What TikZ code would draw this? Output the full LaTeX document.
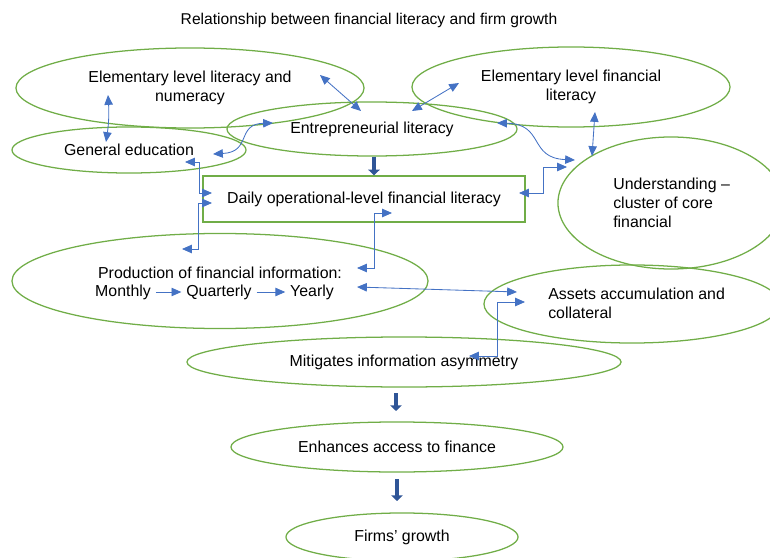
\documentclass[tikz,border=0pt]{standalone}
\usepackage{fontspec}
\setmainfont{Liberation Sans}
\usepackage{tikz}
\usetikzlibrary{shapes.geometric}
\usetikzlibrary{arrows.meta}

\definecolor{ovalgreen}{HTML}{70AD47}
\definecolor{linkblue}{HTML}{4472C4}
\definecolor{deepblue}{HTML}{2F5597}

\tikzset{
    oval/.style={ellipse, draw=ovalgreen, line width=0.9pt, inner sep=0pt, align=center},
    link/.style={draw=linkblue, line width=0.6pt, {Triangle[length=7pt,width=6pt]}-{Triangle[length=7pt,width=6pt]}},
    onelink/.style={draw=linkblue, line width=0.6pt, -{Triangle[length=7pt,width=6pt]}},
    bigarrow/.style={draw=deepblue, line width=2.8pt, -{Triangle[length=4pt,width=8pt]}}
}

\begin{document}
\begin{tikzpicture}[x=0.025cm, y=-0.025cm, font=\fontsize{11.3}{13.5}\selectfont]
            \useasboundingbox (0,0) rectangle (770,558);
            \clip (0,0) rectangle (770,558);
            \node[font=\fontsize{11.1}{13}\selectfont] (title) at (369,20) {Relationship between financial literacy and firm growth};

            \node[oval, minimum width=8.7cm, minimum height=2cm] (litnum) at (190,88) {Elementary level literacy and\\numeracy};
            \node[oval, minimum width=7.95cm, minimum height=2cm] (finlit) at (571,87) {Elementary level financial\\literacy};
            \node[oval, minimum width=7.25cm, minimum height=1.35cm] (entre) at (372,129) {Entrepreneurial literacy};
            \node[oval, minimum width=5.85cm, minimum height=1.15cm] (gened) at (129,150) {General education};
            \node[draw=ovalgreen, line width=0.9pt, minimum width=8.05cm, minimum height=1.15cm] (daily) at (364,199) {Daily operational-level financial literacy};
            \node[oval, minimum width=5.65cm, minimum height=3.3cm] (under) at (671,203) {};
            \node[align=left, anchor=west, inner sep=0pt] (undertxt) at (613,203) {Understanding --\\cluster of core\\financial};
            \node[oval, minimum width=10.4cm, minimum height=2.375cm] (prod) at (220,281) {};
            \node (prodtxt) at (220,273) {Production of financial information:};
            \node (mon) at (123,292) {Monthly};
            \node (qtr) at (219,292) {Quarterly};
            \node (yrl) at (312,292) {Yearly};
            \node[oval, minimum width=7.4cm, minimum height=1.95cm] (assets) at (632,304) {};
            \node[align=left, anchor=west, inner sep=0pt] (assetstxt) at (548,303) {Assets accumulation and\\collateral};
            \node[oval, minimum width=10.85cm, minimum height=1.25cm] (mitig) at (404,362) {Mitigates information asymmetry};
            \node[oval, minimum width=8.3cm, minimum height=1.25cm] (enh) at (397,447) {Enhances access to finance};
            \node[oval, minimum width=5.8cm, minimum height=1.2cm] (firms) at (402,537) {Firms' growth};

            % arrow ends
            \coordinate (a1) at (108,95);  \coordinate (a2) at (106,142);
            \coordinate (b1) at (320,75);  \coordinate (b2) at (361,111);
            \coordinate (c1) at (213,154); \coordinate (c2) at (273,123);
            \coordinate (d1) at (412,111); \coordinate (d2) at (459,83);
            \coordinate (e1) at (497,123); \coordinate (e2) at (575,160);
            \coordinate (f1) at (595,112); \coordinate (f2) at (592,156);
            \coordinate (g1) at (519,193); \coordinate (g2) at (567,167);
            \coordinate (h1) at (185,162); \coordinate (h2) at (212,193);
            \coordinate (i1) at (212,203); \coordinate (i2) at (182,249);
            \coordinate (j1) at (392,213); \coordinate (j2) at (357,268);
            \coordinate (k1) at (357,287); \coordinate (k2) at (517,292);
            \coordinate (l1) at (525,302); \coordinate (l2) at (469,356);

            \draw[link] (a1) to[bend left=6] (a2);
            \draw[link] (b1) -- (b2);
            \draw[link] (c1) .. controls (252,152) and (236,124) .. (c2);
            \draw[link] (d1) -- (d2);
            \draw[link] (e1) .. controls (545,124) and (528,158) .. (e2);
            \draw[link] (f1) -- (f2);
            \draw[link] (g1) -- ++(24,0) |- (g2);
            \draw[link] (h1) -- ++(14,0) |- (h2);
            \draw[link] (i1) -- ++(-14,0) |- (i2);
            \draw[link] (j1) -- ++(-18,0) |- (j2);
            \draw[link] (k1) -- (k2);
            \draw[link] (l1) -- ++(-28,0) |- (l2);
            \draw[onelink] (mon) -- (qtr);
            \draw[onelink] (qtr) -- (yrl);

            \draw[bigarrow] (entre.south -| 374,0) -- (daily.north -| 374,0);
            \draw[bigarrow] (396,393) -- (396,411);
            \draw[bigarrow] (397,479) -- (397,501);
        \end{tikzpicture}
\end{document}
